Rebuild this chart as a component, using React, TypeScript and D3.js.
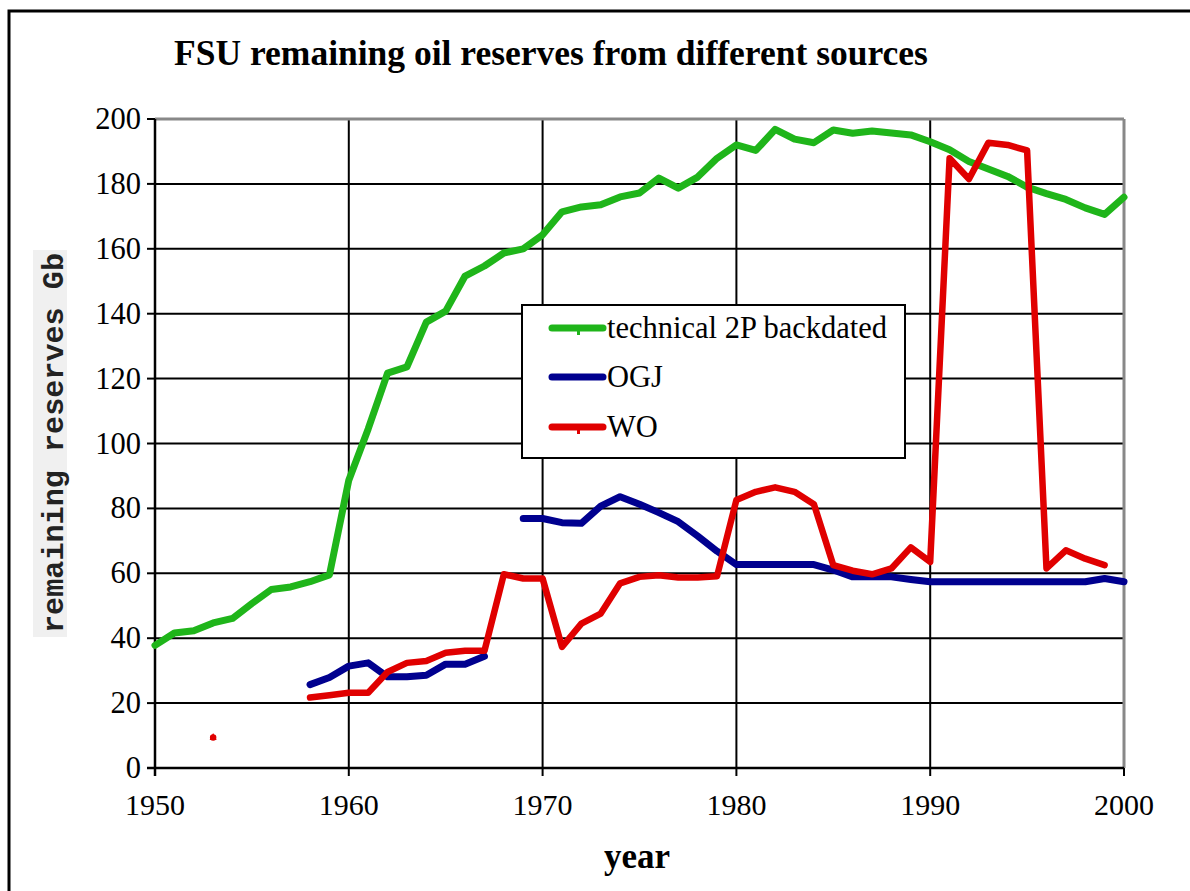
import React from "react";
import * as d3 from "d3";

const TITLE = "FSU remaining oil reserves from different sources";
const X_LABEL = "year";
const Y_LABEL = "remaining reserves Gb";

const years: number[] = d3.range(1950, 2001);

const technical2P: (number | null)[] = [
  37.8, 41.6, 42.3, 44.7, 46.1, 50.7, 55.0, 55.8, 57.4, 59.5,
  88.7, 104.5, 121.7, 123.6, 137.4, 140.8, 151.6, 154.7, 158.7, 160.0,
  164.3, 171.4, 172.9, 173.6, 176.0, 177.2, 181.8, 178.7, 182.1, 187.9,
  192.0, 190.3, 196.8, 193.8, 192.7, 196.6, 195.6, 196.3, 195.7, 195.1,
  193.0, 190.5, 186.9, 184.6, 182.3, 179.0, 177.0, 175.2, 172.6, 170.6, 175.9,
];

const ogj: (number | null)[] = [
  null, null, null, null, null, null, null, null, 25.7, 27.9,
  31.4, 32.4, 28.1, 28.1, 28.6, 32.0, 32.0, 34.4, null, 76.9,
  76.9, 75.6, 75.4, 80.7, 83.6, 81.3, 78.7, 75.9, 71.5, 66.8,
  62.7, 62.7, 62.7, 62.7, 62.7, 61.0, 58.9, 58.9, 58.9, 58.1,
  57.4, 57.4, 57.4, 57.4, 57.4, 57.4, 57.4, 57.4, 57.4, 58.4, 57.4,
];

const wo: (number | null)[] = [
  null, null, null, 9.4, null, null, null, null, 21.7, 22.4,
  23.2, 23.2, 29.6, 32.4, 33.0, 35.5, 36.1, 36.1, 59.7, 58.4,
  58.4, 37.3, 44.5, 47.6, 56.9, 58.9, 59.4, 58.7, 58.7, 59.1,
  82.6, 85.1, 86.5, 85.1, 81.3, 62.5, 60.8, 59.7, 61.5, 68.0,
  63.5, 187.9, 181.5, 192.7, 192.0, 190.3, 61.5, 67.1, 64.5, 62.5, null,
];

const xTicks = [1950, 1960, 1970, 1980, 1990, 2000];
const yTicks = [0, 20, 40, 60, 80, 100, 120, 140, 160, 180, 200];

const seriesNames = ["technical 2P backdated", "OGJ", "WO"];
const seriesColors = ["#1fb51a", "#00008f", "#e00000"];
const seriesData = [technical2P, ogj, wo];

export default function App() {
  const W = 1190;
  const H = 891;
  const left = 155, right = 1124, top = 119, bottom = 768;
  const x = d3.scaleLinear().domain([1950, 2000]).range([left, right]);
  const y = d3.scaleLinear().domain([0, 200]).range([bottom, top]);
  const serif = "'Liberation Serif', 'Times New Roman', serif";

  const lineGen = d3
    .line<number | null>()
    .defined((d) => d != null)
    .x((_, i) => x(years[i]))
    .y((d) => y(d as number));

  const isolated = (arr: (number | null)[]) =>
    arr
      .map((v, i) => ({ v, i }))
      .filter(
        ({ v, i }) =>
          v != null && (i === 0 || arr[i - 1] == null) && (i === arr.length - 1 || arr[i + 1] == null)
      );

  const legendX = 522, legendY = 305, legendW = 383, legendH = 153;
  const rowY = [328, 377, 427];

  return (
    <svg
      width={W}
      height={H}
      style={{ position: "absolute", left: 0, top: 0, background: "#fff" }}
    >
      <rect x={0} y={0} width={W} height={H} fill="#fff" />
      {/* outer frame */}
      <rect x={9} y={11} width={W + 20} height={H + 20} fill="none" stroke="#000" strokeWidth={3} />

      {/* title */}
      <text x={174} y={65} fontFamily={serif} fontWeight="bold" fontSize={35.5} fill="#000">
        {TITLE}
      </text>

      {/* horizontal grid */}
      {yTicks.map((t) => (
        <g key={"gy" + t}>
          {t !== 200 && t !== 0 && (
            <line x1={left} x2={right} y1={y(t)} y2={y(t)} stroke="#000" strokeWidth={2} />
          )}
          <line x1={left - 8} x2={left} y1={y(t)} y2={y(t)} stroke="#000" strokeWidth={2} />
          <text
            x={141}
            y={y(t) + 10}
            textAnchor="end"
            fontFamily={serif}
            fontSize={30.5}
            fill="#000"
          >
            {t}
          </text>
        </g>
      ))}
      {/* vertical grid */}
      {xTicks.map((t) => (
        <g key={"gx" + t}>
          {t !== 1950 && t !== 2000 && (
            <line x1={x(t)} x2={x(t)} y1={top} y2={bottom} stroke="#000" strokeWidth={2} />
          )}
          <line x1={x(t)} x2={x(t)} y1={bottom} y2={bottom + 8} stroke="#000" strokeWidth={2} />
          <text x={x(t)} y={815} textAnchor="middle" fontFamily={serif} fontSize={30} fill="#000">
            {t}
          </text>
        </g>
      ))}
      {/* plot border: top and right grey */}
      <line x1={left} x2={right} y1={top} y2={top} stroke="#888" strokeWidth={3} />
      <line x1={right} x2={right} y1={top} y2={bottom} stroke="#888" strokeWidth={3} />
      {/* axes */}
      <line x1={left} x2={left} y1={top} y2={bottom + 8} stroke="#000" strokeWidth={2.5} />
      <line x1={left - 8} x2={right} y1={bottom} y2={bottom} stroke="#000" strokeWidth={2.5} />

      {/* series */}
      {seriesData.map((arr, si) => (
        <g key={"s" + si}>
          <path
            d={lineGen(arr) || ""}
            fill="none"
            stroke={seriesColors[si]}
            strokeWidth={si === 2 ? 6.5 : 7}
            strokeLinejoin="round"
            strokeLinecap="round"
          />
          {isolated(arr).map(({ v, i }) => (
            <path
              key={"m" + i}
              d={`M${x(years[i])},${y(v as number) - 4.5} l3.5,7 l-7,0 Z`}
              fill={seriesColors[si]}
            />
          ))}
        </g>
      ))}

      {/* legend */}
      <rect
        x={legendX}
        y={legendY}
        width={legendW}
        height={legendH}
        fill="#fff"
        stroke="#000"
        strokeWidth={2}
      />
      {seriesNames.map((name, i) => (
        <g key={"l" + i}>
          <line
            x1={552}
            x2={603}
            y1={rowY[i]}
            y2={rowY[i]}
            stroke={seriesColors[i]}
            strokeWidth={7}
            strokeLinecap="round"
          />
          {i !== 1 && (
            <rect x={577} y={rowY[i] + 2} width={3} height={5} fill={seriesColors[i]} />
          )}
          <text x={607} y={rowY[i] + 10} fontFamily={serif} fontSize={30.5} fill="#000">
            {name}
          </text>
        </g>
      ))}

      {/* y label */}
      <rect x={33} y={250} width={34} height={387} fill="#f0f0f0" />
      <text
        transform={`translate(63,443) rotate(-90)`}
        textAnchor="middle"
        fontFamily="'Liberation Mono', 'Courier New', monospace"
        fontWeight="bold"
        fontSize={30}
        textLength={380}
        lengthAdjust="spacingAndGlyphs"
        fill="#222"
      >
        {Y_LABEL}
      </text>

      {/* x label */}
      <text x={637} y={868} textAnchor="middle" fontFamily={serif} fontWeight="bold" fontSize={35} fill="#000">
        {X_LABEL}
      </text>
    </svg>
  );
}
